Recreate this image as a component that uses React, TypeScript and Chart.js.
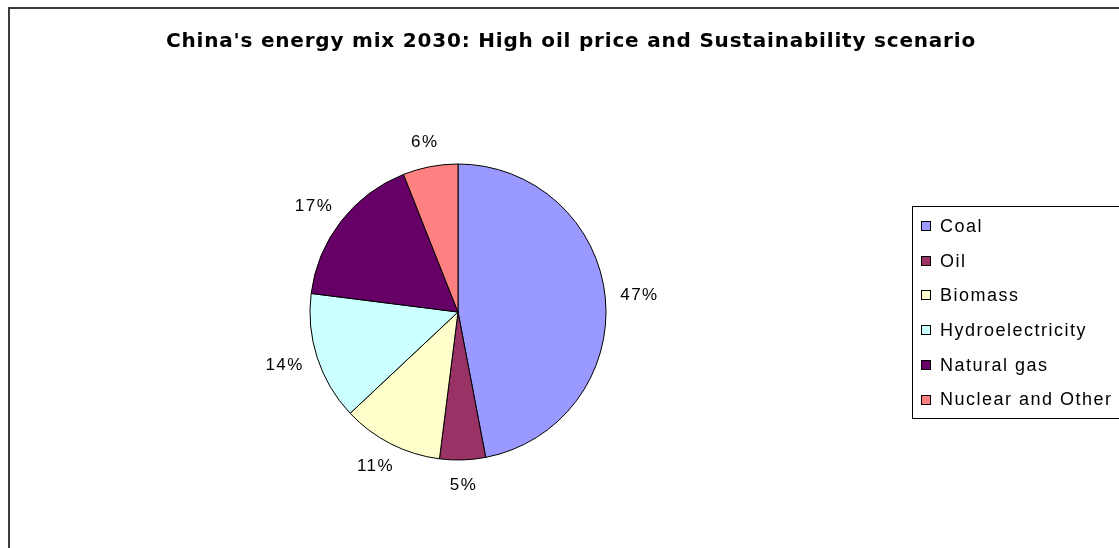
import React, { useEffect, useRef } from "react";
import { Chart, registerables } from "chart.js";

Chart.register(...registerables);

const TITLE = "China's energy mix 2030: High oil price and Sustainability scenario";
const categories = ["Coal", "Oil", "Biomass", "Hydroelectricity", "Natural gas", "Nuclear and Other"];
const shares = [47, 5, 11, 14, 17, 6];
const colors = ["#9999FF", "#993366", "#FFFFCC", "#CCFFFF", "#660066", "#FF8080"];

const framePlugin = {
  id: "frame",
  beforeDraw(chart: any) {
    const ctx = chart.ctx;
    ctx.save();
    ctx.fillStyle = "#ffffff";
    ctx.fillRect(0, 0, chart.width, chart.height);
    ctx.strokeStyle = "#3a3a3a";
    ctx.lineWidth = 2;
    ctx.beginPath();
    ctx.moveTo(9, chart.height + 2);
    ctx.lineTo(9, 8);
    ctx.lineTo(chart.width + 2, 8);
    ctx.stroke();
    ctx.fillStyle = "#000000";
    ctx.font = "bold 20px 'DejaVu Sans'";
    (ctx as any).letterSpacing = "0.8px";
    ctx.textAlign = "center";
    ctx.textBaseline = "middle";
    ctx.fillText(TITLE, 571, 42);
    ctx.restore();
  },
  afterDraw(chart: any) {
    const ctx = chart.ctx;
    const meta = chart.getDatasetMeta(0);
    ctx.save();
    ctx.font = "17px 'Liberation Sans', Arial, sans-serif";
    (ctx as any).letterSpacing = "1.5px";
    ctx.fillStyle = "#000000";
    ctx.textAlign = "center";
    ctx.textBaseline = "middle";
    const total = shares.reduce((a, b) => a + b, 0);
    meta.data.forEach((arc: any, i: number) => {
      const mid = (arc.startAngle + arc.endAngle) / 2;
      const r = arc.outerRadius + 15;
      const cx = arc.x + Math.cos(mid) * r;
      const cy = arc.y + Math.sin(mid) * r;
      const txt = Math.round((shares[i] / total) * 100) + "%";
      const w = ctx.measureText(txt).width;
      ctx.fillText(txt, cx + Math.cos(mid) * w / 2, cy + Math.sin(mid) * 10);
    });
    // legend
    const lx = 912, ly = 206, lh = 212;
    ctx.strokeStyle = "#000000";
    ctx.lineWidth = 1;
    ctx.strokeRect(lx + 0.5, ly + 0.5, chart.width, lh);
    ctx.font = "18px 'Liberation Sans', Arial, sans-serif";
    ctx.textAlign = "left";
    categories.forEach((c, i) => {
      const y = 226 + i * 34.7;
      ctx.fillStyle = colors[i];
      ctx.fillRect(921, Math.round(y) - 5, 10, 10);
      ctx.strokeStyle = "#000000";
      ctx.strokeRect(921.5, Math.round(y) - 4.5, 9, 9);
      ctx.fillStyle = "#000000";
      ctx.fillText(c, 940, y + 1);
    });
    ctx.restore();
  },
};

export default function App() {
  const ref = useRef<HTMLCanvasElement>(null);
  useEffect(() => {
    document.body.style.margin = "0";
    const chart = new Chart(ref.current!, {
      type: "pie",
      data: {
        labels: categories,
        datasets: [
          {
            data: shares,
            backgroundColor: colors,
            borderColor: "#000000",
            borderWidth: 1,
          },
        ],
      },
      options: {
        animation: false,
        responsive: false,
        radius: 148,
        layout: { padding: { left: 100, right: 303, top: 126, bottom: 50 } },
        plugins: {
          legend: { display: false },
          title: { display: false },
          tooltip: { enabled: false },
        },
      },
      plugins: [framePlugin],
    });
    return () => chart.destroy();
  }, []);
  return <canvas ref={ref} width={1119} height={548} style={{ display: "block" }} />;
}
